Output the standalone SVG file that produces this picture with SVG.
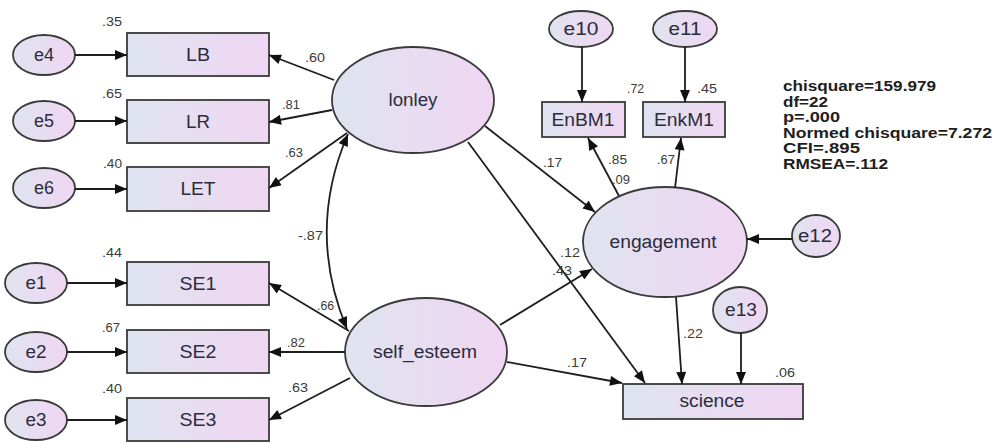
<svg xmlns="http://www.w3.org/2000/svg" width="997" height="443" viewBox="0 0 997 443">
<defs>
<linearGradient id="g" x1="0" y1="0" x2="1" y2="0">
<stop offset="0" stop-color="#dfe4ef"/>
<stop offset="1" stop-color="#f0d6f3"/>
</linearGradient>
<marker id="a" viewBox="0 0 12 10" refX="12" refY="5" markerWidth="13" markerHeight="10" markerUnits="userSpaceOnUse" orient="auto-start-reverse">
<path d="M0,0 L12,5 L0,10 z" fill="#111"/>
</marker>
<style>
.n{fill:url(#g);stroke:#3a3a3a;stroke-width:1.8}
.t{font-family:"Liberation Sans",Arial,sans-serif;font-size:18px;fill:#2c2c3c;text-anchor:middle}
.v{font-family:"Liberation Sans",Arial,sans-serif;font-size:12px;fill:#3a3a3a}
.s{font-family:"Liberation Sans",Arial,sans-serif;font-size:14px;font-weight:bold;fill:#1e1e1e}
.c path{fill:none;stroke:#1e1e1e;stroke-width:1.8;marker-end:url(#a)}
</style>
</defs>
<rect width="997" height="443" fill="#fff"/>

<g id="e4"><ellipse class="n" cx="44" cy="55" rx="31" ry="20"/><text class="t" x="44" y="61" textLength="20" lengthAdjust="spacingAndGlyphs">e4</text></g>
<g id="e5"><ellipse class="n" cx="44" cy="121" rx="31" ry="20"/><text class="t" x="44" y="127" textLength="20" lengthAdjust="spacingAndGlyphs">e5</text></g>
<g id="e6"><ellipse class="n" cx="44" cy="188" rx="31" ry="20"/><text class="t" x="44" y="194" textLength="20" lengthAdjust="spacingAndGlyphs">e6</text></g>
<g id="e1"><ellipse class="n" cx="36" cy="283" rx="31" ry="20"/><text class="t" x="36" y="289" textLength="21" lengthAdjust="spacingAndGlyphs">e1</text></g>
<g id="e2"><ellipse class="n" cx="36" cy="352" rx="31" ry="20"/><text class="t" x="36" y="358" textLength="21" lengthAdjust="spacingAndGlyphs">e2</text></g>
<g id="e3"><ellipse class="n" cx="36" cy="420" rx="31" ry="20"/><text class="t" x="36" y="426" textLength="21" lengthAdjust="spacingAndGlyphs">e3</text></g>

<g id="LB"><rect class="n" x="127" y="33" width="142" height="43"/><text class="t" x="198" y="61" textLength="24" lengthAdjust="spacingAndGlyphs">LB</text></g>
<g id="LR"><rect class="n" x="127" y="100" width="142" height="43"/><text class="t" x="198" y="128" textLength="24" lengthAdjust="spacingAndGlyphs">LR</text></g>
<g id="LET"><rect class="n" x="127" y="167" width="142" height="44"/><text class="t" x="198" y="195" textLength="35" lengthAdjust="spacingAndGlyphs">LET</text></g>
<g id="SE1"><rect class="n" x="127" y="262" width="142" height="43"/><text class="t" x="198" y="290" textLength="37" lengthAdjust="spacingAndGlyphs">SE1</text></g>
<g id="SE2"><rect class="n" x="127" y="330" width="142" height="43"/><text class="t" x="198" y="358" textLength="37" lengthAdjust="spacingAndGlyphs">SE2</text></g>
<g id="SE3"><rect class="n" x="127" y="398" width="142" height="43"/><text class="t" x="198" y="426" textLength="37" lengthAdjust="spacingAndGlyphs">SE3</text></g>

<g id="lonley"><ellipse class="n" cx="413" cy="100" rx="81" ry="53"/><text class="t" x="413" y="106" textLength="49" lengthAdjust="spacingAndGlyphs">lonley</text></g>
<g id="self_esteem"><ellipse class="n" cx="426" cy="352" rx="81" ry="54"/><text class="t" x="425" y="358" textLength="104" lengthAdjust="spacingAndGlyphs">self_esteem</text></g>
<g id="engagement"><ellipse class="n" cx="665" cy="242" rx="82" ry="55"/><text class="t" x="663" y="248" textLength="107" lengthAdjust="spacingAndGlyphs">engagement</text></g>

<g id="e10"><ellipse class="n" cx="581" cy="29" rx="32" ry="18"/><text class="t" x="581" y="35" textLength="35" lengthAdjust="spacingAndGlyphs">e10</text></g>
<g id="e11"><ellipse class="n" cx="685" cy="29" rx="32" ry="18"/><text class="t" x="685" y="35" textLength="33" lengthAdjust="spacingAndGlyphs">e11</text></g>
<g id="EnBM1"><rect class="n" x="542" y="102" width="83" height="35"/><text class="t" x="583" y="126" textLength="63" lengthAdjust="spacingAndGlyphs">EnBM1</text></g>
<g id="EnkM1"><rect class="n" x="643" y="102" width="82" height="35"/><text class="t" x="684" y="126" textLength="60" lengthAdjust="spacingAndGlyphs">EnkM1</text></g>
<g id="e12"><ellipse class="n" cx="816" cy="236" rx="24" ry="21"/><text class="t" x="815" y="242" textLength="34" lengthAdjust="spacingAndGlyphs">e12</text></g>
<g id="e13"><ellipse class="n" cx="740" cy="310" rx="27" ry="23"/><text class="t" x="741" y="316" textLength="32" lengthAdjust="spacingAndGlyphs">e13</text></g>
<g id="science"><rect class="n" x="623" y="384" width="180" height="35"/><text class="t" x="712" y="407" textLength="65" lengthAdjust="spacingAndGlyphs">science</text></g>

<g id="connectors" class="c">
<path d="M75,55 L127,55"/>
<path d="M75,121 L127,121"/>
<path d="M75,189 L127,189"/>
<path d="M67,283 L127,283"/>
<path d="M67,352 L127,352"/>
<path d="M67,420 L127,420"/>
<path d="M334,80 L269,55"/>
<path d="M332,110 L269,122"/>
<path d="M347,133 L269,188"/>
<path d="M349,331 L269,283"/>
<path d="M345,352 L269,352"/>
<path d="M350,378 L269,420"/>
<path d="M348,134 Q306,231 347,329" marker-start="url(#a)"/>
<path d="M485,126 L595,212"/>
<path d="M468,142 L645,383"/>
<path d="M500,325 L592,269"/>
<path d="M507,362 L622,383"/>
<path d="M619,196 L588,138"/>
<path d="M675,188 L681,138"/>
<path d="M582,47 L582,102"/>
<path d="M685,47 L685,102"/>
<path d="M792,239 L747,239"/>
<path d="M676,297 L682,384"/>
<path d="M741,333 L741,384"/>
</g>

<g id="weights">
<text class="v" x="102" y="26" textLength="20" lengthAdjust="spacingAndGlyphs">.35</text>
<text class="v" x="102" y="98" textLength="20" lengthAdjust="spacingAndGlyphs">.65</text>
<text class="v" x="103" y="168" textLength="19" lengthAdjust="spacingAndGlyphs">.40</text>
<text class="v" x="305" y="62" textLength="20" lengthAdjust="spacingAndGlyphs">.60</text>
<text class="v" x="282" y="109" textLength="18" lengthAdjust="spacingAndGlyphs">.81</text>
<text class="v" x="285" y="157" textLength="18" lengthAdjust="spacingAndGlyphs">.63</text>
<text class="v" x="102" y="257" textLength="20" lengthAdjust="spacingAndGlyphs">.44</text>
<text class="v" x="102" y="332" textLength="18" lengthAdjust="spacingAndGlyphs">.67</text>
<text class="v" x="102" y="393" textLength="20" lengthAdjust="spacingAndGlyphs">.40</text>
<text class="v" x="317" y="310" textLength="17" lengthAdjust="spacingAndGlyphs">.66</text>
<text class="v" x="287" y="347" textLength="18" lengthAdjust="spacingAndGlyphs">.82</text>
<text class="v" x="288" y="392" textLength="20" lengthAdjust="spacingAndGlyphs">.63</text>
<text class="v" x="298" y="240" textLength="25" lengthAdjust="spacingAndGlyphs">-.87</text>
<text class="v" x="627" y="93" textLength="17" lengthAdjust="spacingAndGlyphs">.72</text>
<text class="v" x="697" y="93" textLength="20" lengthAdjust="spacingAndGlyphs">.45</text>
<text class="v" x="543" y="167" textLength="19" lengthAdjust="spacingAndGlyphs">.17</text>
<text class="v" x="608" y="164" textLength="19" lengthAdjust="spacingAndGlyphs">.85</text>
<text class="v" x="612" y="184" textLength="18" lengthAdjust="spacingAndGlyphs">.09</text>
<text class="v" x="657" y="164" textLength="18" lengthAdjust="spacingAndGlyphs">.67</text>
<text class="v" x="560" y="257" textLength="20" lengthAdjust="spacingAndGlyphs">.12</text>
<text class="v" x="552" y="275" textLength="20" lengthAdjust="spacingAndGlyphs">.43</text>
<text class="v" x="683" y="338" textLength="20" lengthAdjust="spacingAndGlyphs">.22</text>
<text class="v" x="567" y="367" textLength="20" lengthAdjust="spacingAndGlyphs">.17</text>
<text class="v" x="775" y="377" textLength="20" lengthAdjust="spacingAndGlyphs">.06</text>
</g>

<g id="fit">
<text class="s" x="783" y="91" textLength="153" lengthAdjust="spacingAndGlyphs">chisquare=159.979</text>
<text class="s" x="783" y="107" textLength="45" lengthAdjust="spacingAndGlyphs">df=22</text>
<text class="s" x="783" y="122" textLength="57" lengthAdjust="spacingAndGlyphs">p=.000</text>
<text class="s" x="783" y="138" textLength="209" lengthAdjust="spacingAndGlyphs">Normed chisquare=7.272</text>
<text class="s" x="783" y="153" textLength="77" lengthAdjust="spacingAndGlyphs">CFI=.895</text>
<text class="s" x="783" y="169" textLength="105" lengthAdjust="spacingAndGlyphs">RMSEA=.112</text>
</g>
</svg>
